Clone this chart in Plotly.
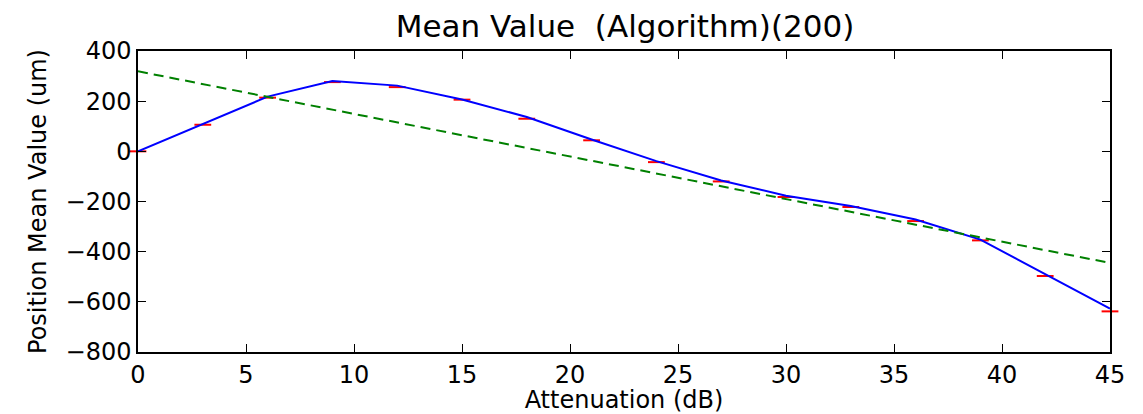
import plotly.graph_objects as go

attenuation = [0, 3, 6, 9, 12, 15, 18, 21, 24, 27, 30, 33, 36, 39, 42, 45]
line_values = [0, 110, 218, 280, 262, 207, 137, 47, -39, -116, -177, -218, -272, -352, -488, -627]
mean_values = [0, 106, 214, 276, 256, 206, 130, 44, -43, -120, -182, -222, -278, -355, -497, -638]
fit_x = [0, 45]
fit_y = [319, -445]

x_ticks = [0, 5, 10, 15, 20, 25, 30, 35, 40, 45]
y_ticks = [400, 200, 0, -200, -400, -600, -800]

FONT = "DejaVu Sans"

fig = go.Figure()
fig.add_trace(go.Scatter(x=attenuation, y=mean_values, mode="markers",
                         marker=dict(symbol="line-ew", size=12,
                                     line=dict(color="#ff0000", width=2)),
                         showlegend=False, cliponaxis=False))
fig.add_trace(go.Scatter(x=attenuation, y=line_values, mode="lines",
                         line=dict(color="#0000ff", width=2), showlegend=False))
fig.add_trace(go.Scatter(x=fit_x, y=fit_y, mode="lines",
                         line=dict(color="#008000", width=2, dash="10px,6px"),
                         showlegend=False))

axis_common = dict(showline=True, linecolor="black", linewidth=1.5, mirror="ticks",
                   ticks="inside", ticklen=8, tickwidth=1, tickcolor="black",
                   showgrid=False, zeroline=False,
                   tickfont=dict(family=FONT, size=24, color="black"))

fig.update_xaxes(range=[0, 45], tickvals=x_ticks,
                 title=dict(text="Attenuation (dB)", font=dict(family=FONT, size=24, color="black"),
                            standoff=0),
                 **axis_common)
fig.update_yaxes(range=[-800, 400], tickvals=y_ticks,
                 title=dict(text="Position Mean Value (um)", font=dict(family=FONT, size=24, color="black"),
                            standoff=12),
                 **axis_common)

fig.update_layout(
    width=1135, height=406,
    margin=dict(l=130, r=33, t=43, b=62, autoexpand=False),
    paper_bgcolor="white", plot_bgcolor="white",
    title=dict(text="Mean Value  (Algorithm)(200)", x=0.5436, xanchor="center",
               y=0.955, yanchor="middle",
               font=dict(family=FONT, size=31, color="black")),
)

fig.write_html("out.html")
